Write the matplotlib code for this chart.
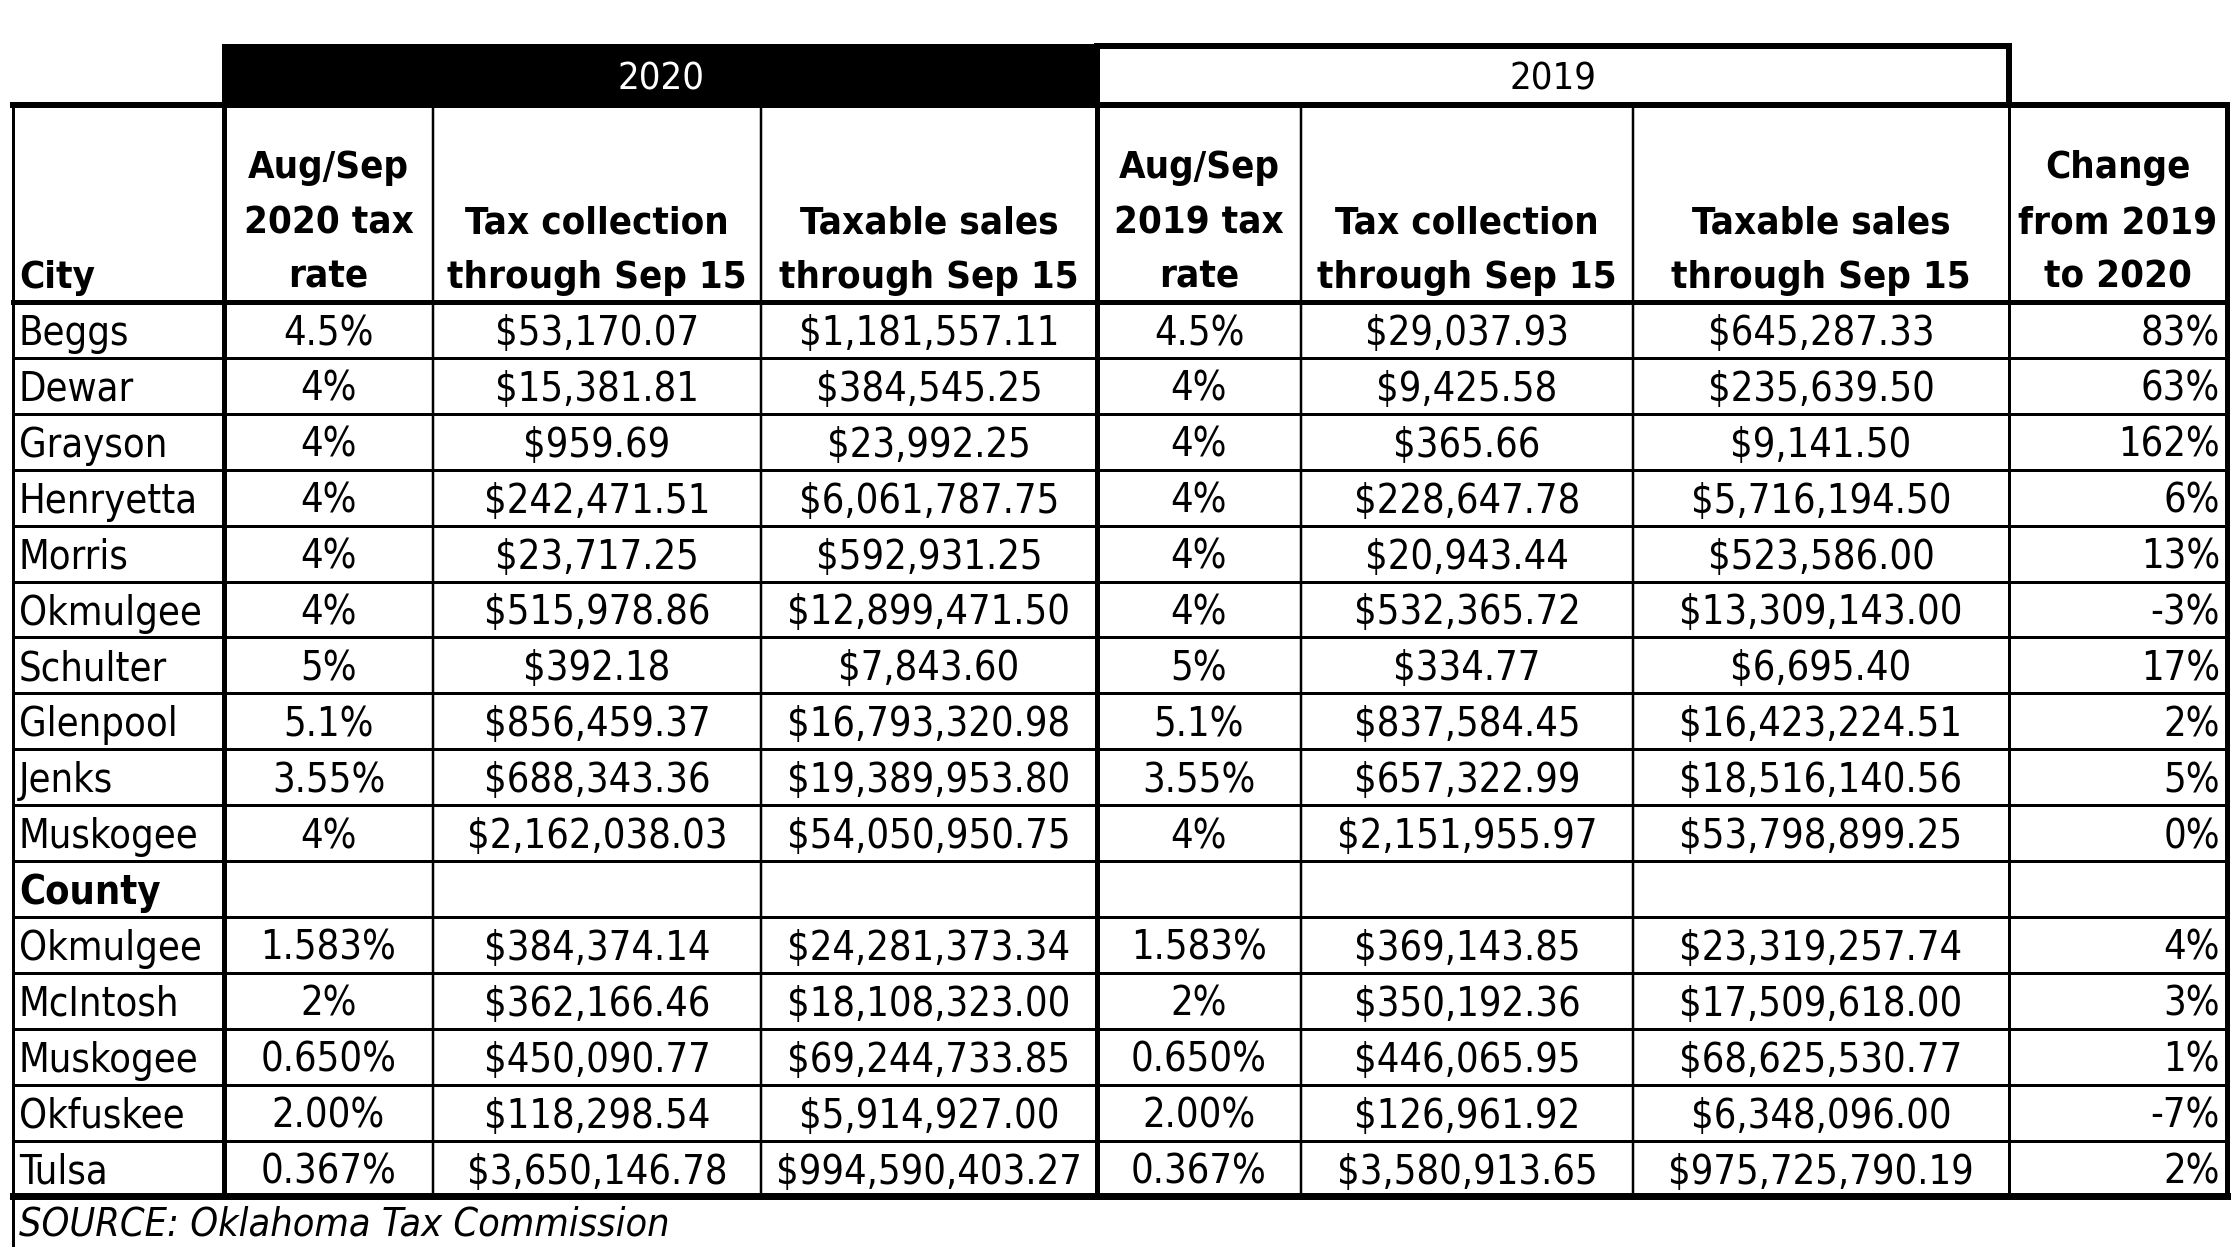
import matplotlib
matplotlib.use('Agg')
import matplotlib.pyplot as plt
from matplotlib.patches import Rectangle

# Table data
city_names = ['Beggs', 'Dewar', 'Grayson', 'Henryetta', 'Morris', 'Okmulgee',
              'Schulter', 'Glenpool', 'Jenks', 'Muskogee']
city_rate_2020 = ['4.5%', '4%', '4%', '4%', '4%', '4%', '5%', '5.1%', '3.55%', '4%']
city_tax_2020 = [53170.07, 15381.81, 959.69, 242471.51, 23717.25, 515978.86,
                 392.18, 856459.37, 688343.36, 2162038.03]
city_sales_2020 = [1181557.11, 384545.25, 23992.25, 6061787.75, 592931.25,
                   12899471.50, 7843.60, 16793320.98, 19389953.80, 54050950.75]
city_rate_2019 = ['4.5%', '4%', '4%', '4%', '4%', '4%', '5%', '5.1%', '3.55%', '4%']
city_tax_2019 = [29037.93, 9425.58, 365.66, 228647.78, 20943.44, 532365.72,
                 334.77, 837584.45, 657322.99, 2151955.97]
city_sales_2019 = [645287.33, 235639.50, 9141.50, 5716194.50, 523586.00,
                   13309143.00, 6695.40, 16423224.51, 18516140.56, 53798899.25]
city_change = [83, 63, 162, 6, 13, -3, 17, 2, 5, 0]

county_names = ['Okmulgee', 'McIntosh', 'Muskogee', 'Okfuskee', 'Tulsa']
county_rate_2020 = ['1.583%', '2%', '0.650%', '2.00%', '0.367%']
county_tax_2020 = [384374.14, 362166.46, 450090.77, 118298.54, 3650146.78]
county_sales_2020 = [24281373.34, 18108323.00, 69244733.85, 5914927.00, 994590403.27]
county_rate_2019 = ['1.583%', '2%', '0.650%', '2.00%', '0.367%']
county_tax_2019 = [369143.85, 350192.36, 446065.95, 126961.92, 3580913.65]
county_sales_2019 = [23319257.74, 17509618.00, 68625530.77, 6348096.00, 975725790.19]
county_change = [4, 3, 1, -7, 2]

headers = [['City'],
           ['Aug/Sep', '2020 tax', 'rate'],
           ['Tax collection', 'through Sep 15'],
           ['Taxable sales', 'through Sep 15'],
           ['Aug/Sep', '2019 tax', 'rate'],
           ['Tax collection', 'through Sep 15'],
           ['Taxable sales', 'through Sep 15'],
           ['Change', 'from 2019', 'to 2020']]
source = 'SOURCE: Oklahoma Tax Commission'

# condensed DejaVu looks closest to the Tahoma-style type of the original
plt.rcParams['font.family'] = ['DejaVu Sans']
plt.rcParams['font.stretch'] = 'condensed'


def money(v):
    return f'${v:,.2f}'


def make_rows(names, r20, t20, s20, r19, t19, s19, ch):
    out = []
    for i in range(len(names)):
        out.append([names[i], r20[i], money(t20[i]), money(s20[i]),
                    r19[i], money(t19[i]), money(s19[i]), f'{ch[i]}%'])
    return out


rows = make_rows(city_names, city_rate_2020, city_tax_2020, city_sales_2020,
                 city_rate_2019, city_tax_2019, city_sales_2019, city_change)
rows.append(['County'] + [''] * 7)
rows += make_rows(county_names, county_rate_2020, county_tax_2020, county_sales_2020,
                  county_rate_2019, county_tax_2019, county_sales_2019, county_change)

# layout in pixel space
W, H = 2234, 1247
col_x = [13, 224, 433, 761, 1097, 1301, 1633, 2009, 2227]
band_top, band_bot = 46, 105
head_bot = 302
row_h = 55.9
table_bot = head_bot + row_h * len(rows)
px = 0.72  # px -> pt at 100 dpi

fig = plt.figure(figsize=(W / 100, H / 100), dpi=100)
ax = fig.add_axes([0, 0, 1, 1])
ax.set_xlim(0, W)
ax.set_ylim(H, 0)
ax.axis('off')
renderer = fig.canvas.get_renderer()


def fit_size(s, target, **kw):
    t = ax.text(0, 0, s, fontsize=20, **kw)
    w = t.get_window_extent(renderer).width
    t.remove()
    return 20 * target / w


fs = fit_size('$994,590,403.27', 306)
fs_head = fit_size('through Sep 15', 300, fontweight='bold')
fs_year = fit_size('2020', 87)
fs_src = fit_size(source, 650, fontstyle='italic')

# year bands
ax.add_patch(Rectangle((col_x[1], band_top), col_x[4] - col_x[1], band_bot - band_top,
                       facecolor='black', edgecolor='black', lw=4 * px))
ax.add_patch(Rectangle((col_x[4], band_top), col_x[7] - col_x[4], band_bot - band_top,
                       facecolor='white', edgecolor='black', lw=6 * px))
ax.text((col_x[1] + col_x[4]) / 2, 90, '2020', color='white', fontsize=fs_year,
        ha='center', va='baseline')
ax.text((col_x[4] + col_x[7]) / 2, 90, '2019', color='black', fontsize=fs_year,
        ha='center', va='baseline')

# horizontal lines
ax.plot([col_x[0], col_x[-1]], [band_bot, band_bot], color='black', lw=6 * px,
        solid_capstyle='projecting')
ax.plot([col_x[0], col_x[-1]], [head_bot, head_bot], color='black', lw=5 * px)
for i in range(1, len(rows)):
    y = head_bot + i * row_h
    ax.plot([col_x[0], col_x[-1]], [y, y], color='black', lw=3 * px)
ax.plot([col_x[0], col_x[-1]], [table_bot, table_bot], color='black', lw=7 * px,
        solid_capstyle='projecting')

# vertical lines
vw = [3, 5, 2.5, 2.5, 5, 2.5, 2.5, 3, 5]
for x, w in zip(col_x, vw):
    y1 = table_bot
    if x == col_x[0]:
        y1 = H
    ax.plot([x, x], [band_bot, y1], color='black', lw=w * px)

# header text
for j, lines in enumerate(headers):
    n = len(lines)
    for k, line in enumerate(lines):
        yb = 288 - 55 * (n - 1 - k)
        if j == 0:
            ax.text(col_x[0] + 6, yb, line, fontsize=fs_head, fontweight='bold',
                    ha='left', va='baseline')
        else:
            ax.text((col_x[j] + col_x[j + 1]) / 2, yb, line, fontsize=fs_head,
                    fontweight='bold', ha='center', va='baseline')

# body text
for i, r in enumerate(rows):
    yb = head_bot + i * row_h + 43
    for j, val in enumerate(r):
        if j == 0:
            ax.text(col_x[0] + 6, yb, val, fontsize=fs, ha='left', va='baseline',
                    fontweight='bold' if val == 'County' else 'normal')
        elif j == 7:
            ax.text(col_x[8] - 7, yb, val, fontsize=fs, ha='right', va='baseline')
        else:
            ax.text((col_x[j] + col_x[j + 1]) / 2, yb, val, fontsize=fs,
                    ha='center', va='baseline')

ax.text(col_x[0] + 6, 1235, source, fontsize=fs_src, fontstyle='italic',
        ha='left', va='baseline')

fig.savefig('out.png', dpi=100)
